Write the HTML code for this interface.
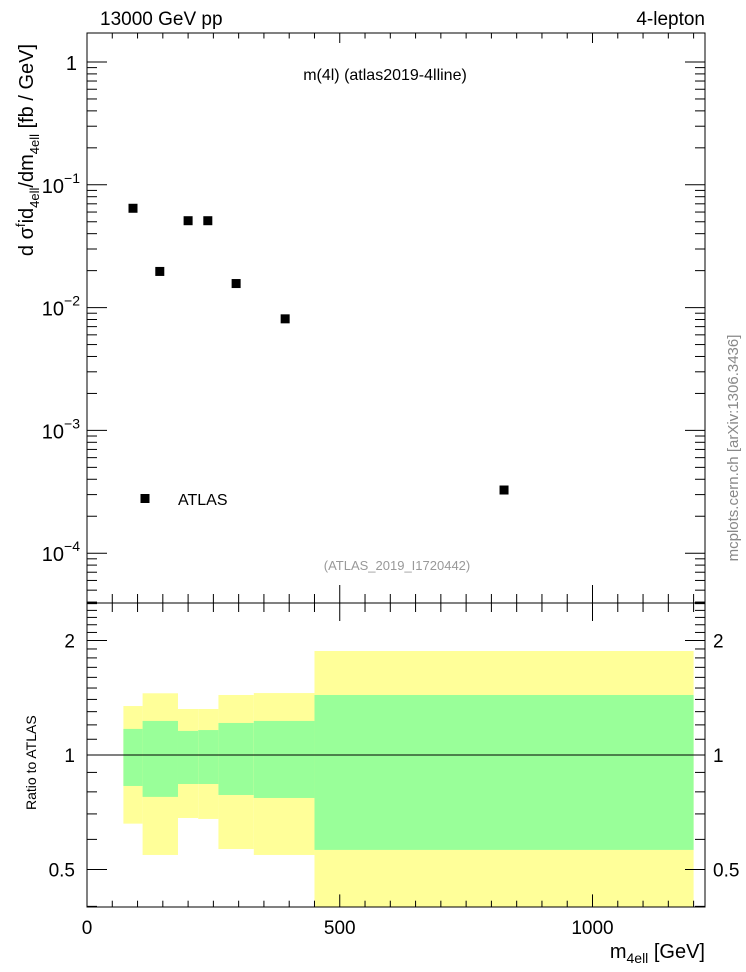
<!DOCTYPE html>
<html><head><meta charset="utf-8"><style>
body{margin:0;background:#fff;}
svg{display:block;font-family:"Liberation Sans",sans-serif;}
</style></head><body>
<svg id="c" width="746" height="972" xmlns="http://www.w3.org/2000/svg"></svg>
<script>
const binEdges=[72,110,180,220,260,330,450,1200];
const greenHi=[1.171,1.229,1.157,1.163,1.214,1.229,1.438];
const greenLo=[0.829,0.776,0.839,0.839,0.785,0.771,0.563];
const yellowHi=[1.345,1.453,1.321,1.321,1.438,1.455,1.877];
const yellowLo=[0.66,0.546,0.683,0.679,0.566,0.546,0.3];
const pointX=[91,144,200,239,295,392,825];
const pointY=[0.0644,0.0197,0.051,0.051,0.0157,0.0081,0.000327];
const xTickLabels=[0,500,1000];
const yMainLabels=[["1",""],["10","-1"],["10","-2"],["10","-3"],["10","-4"]];
const ratioLabels=[2,1,0.5];

const NS="http://www.w3.org/2000/svg";
const svg=document.getElementById('c');
const L=87,R=705,T=33,M=603,B=907;
const X=v=>L+v*0.5055;
const Y=v=>62-Math.log10(v)*122.8;
const YR=v=>755-Math.log2(v)*114.5;
function el(t,a,name,p){const e=document.createElementNS(NS,t);for(const k in a)e.setAttribute(k,a[k]);


(p||svg).appendChild(e);return e;}
function line(x1,y1,x2,y2,name,w){return el('line',{x1,y1,x2,y2,stroke:'#000','stroke-width':w||1},name);}
function text(x,y,s,name,a){const e=el('text',Object.assign({x,y,'font-size':18},a||{}),name);e.textContent=s;return e;}
function span(parent,s,dy,fs,name){const t=el('tspan',{dy:dy,'font-size':fs},name,parent);t.textContent=s;return t;}

for(let i=0;i<greenHi.length;i++){
 const x0=X(binEdges[i]),x1=X(binEdges[i+1]);
 const yb=Math.min(YR(yellowLo[i]),B);
 el('rect',{x:x0,y:YR(yellowHi[i]),width:x1-x0,height:yb-YR(yellowHi[i]),fill:'#ffff99'},'yellow-band');
 el('rect',{x:x0,y:YR(greenHi[i]),width:x1-x0,height:YR(greenLo[i])-YR(greenHi[i]),fill:'#99ff99'},'green-band');
}
line(L,YR(1),R,YR(1),'ratio-unity-line',1);
el('rect',{x:L,y:T,width:R-L,height:M-T,fill:'none',stroke:'#000','stroke-width':1},'main-frame');
el('rect',{x:L,y:M,width:R-L,height:B-M,fill:'none',stroke:'#000','stroke-width':1},'ratio-frame');
for(let v=0;v<=1200;v+=50){const maj=v%500==0,len=maj?18:9,x=X(v);
 line(x,T,x,T+len/2+1,'x-tick');line(x,M,x,M-len,'x-tick');line(x,M,x,M+len,'x-tick');line(x,B,x,B-len*0.7,'x-tick');}
xTickLabels.forEach(v=>text(X(v),934,String(v),'x-tick-label',{'text-anchor':'middle','font-size':19}));
for(let d=-5;d<=0;d++)for(let m=1;m<10;m++){const v=m*Math.pow(10,d),y=Y(v);if(y<T||y>M)continue;
 const len=m==1?20:10;line(L,y,L+len,y,'y-tick');line(R,y,R-len,y,'y-tick');}
yMainLabels.forEach(([b,e],i)=>{const y=Y(Math.pow(10,-i));
 if(!e){text(L-10,y+8,b,'y-tick-label',{'text-anchor':'end','font-size':20});return;}
 const t=text(L-7,y+8,b,'y-tick-label',{'text-anchor':'end','font-size':20});
 span(t,'\u2212'+e.replace('-',''),-10,14,'y-tick-exponent');
});
for(let v=0.4;v<=2.51;v+=0.1){const y=YR(v);const maj=Math.abs(v-0.5)<1e-6||Math.abs(v-1)<1e-6||Math.abs(v-2)<1e-6;
 const len=maj?20:10;line(L,y,L+len,y,'ratio-tick');line(R,y,R-len,y,'ratio-tick');}
ratioLabels.forEach(v=>{text(L-12,YR(v)+7,String(v),'ratio-tick-label',{'text-anchor':'end','font-size':19});
 text(R+8,YR(v)+7,String(v),'ratio-tick-label-right',{'font-size':19});});
pointX.forEach((v,i)=>el('rect',{x:X(v)-4.5,y:Y(pointY[i])-4.5,width:9,height:9,fill:'#000'},'data-point'));
el('rect',{x:140.5,y:494,width:9,height:9,fill:'#000'},'legend-marker');
text(178,505,'ATLAS','legend-label',{'font-size':16});
text(100,25,'13000 GeV pp','energy-label',{'font-size':19});
text(705,25,'4-lepton','process-label',{'font-size':19,'text-anchor':'end'});
text(385,80,'m(4l) (atlas2019-4lline)','plot-title',{'font-size':16,'text-anchor':'middle'});
text(397,570,'(ATLAS_2019_I1720442)','analysis-id',{'font-size':13,'text-anchor':'middle',fill:'#999'});
const yt=text(0,0,'d σ','y-axis-title',{'font-size':20,'text-anchor':'middle',transform:'translate(33,150) rotate(-90)'});
span(yt,'f',-8,13,'y-axis-title-sup');
span(yt,'id',8,20,'y-axis-title-part');
span(yt,'4ell',6,13,'y-axis-title-sub');
span(yt,'/dm',-6,20,'y-axis-title-part');
span(yt,'4ell',6,13,'y-axis-title-sub');
span(yt,' [fb / GeV]',-6,20,'y-axis-title-unit');
text(0,0,'Ratio to ATLAS','ratio-axis-title',{'font-size':14,transform:'translate(36,810) rotate(-90)'});
const xt=text(705,958,'m','x-axis-title',{'font-size':20,'text-anchor':'end'});
span(xt,'4ell',5,14,'x-axis-title-sub');
span(xt,' [GeV]',-5,20,'x-axis-title-unit');
text(0,0,'mcplots.cern.ch [arXiv:1306.3436]','watermark',{'font-size':15,fill:'#888','text-anchor':'middle',transform:'translate(738,448) rotate(-90)'});
</script>
</body></html>
